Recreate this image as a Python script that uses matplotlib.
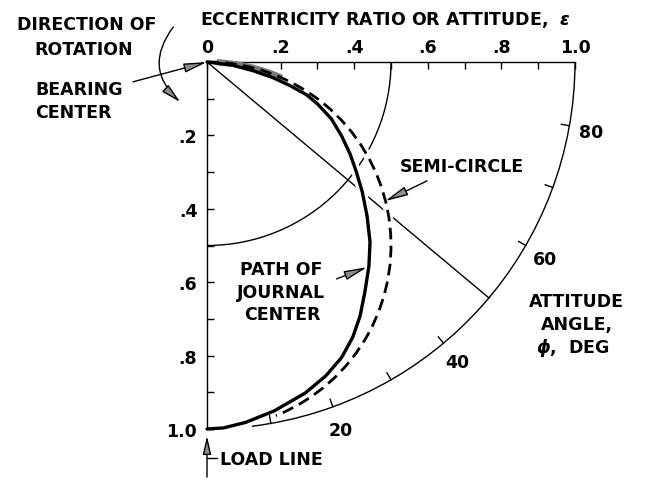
import numpy as np
import matplotlib
matplotlib.use("Agg")
import matplotlib.pyplot as plt
from matplotlib.patches import Arc, FancyArrowPatch
from matplotlib.ticker import FixedLocator, FixedFormatter

plt.rcParams['font.family'] = ['DejaVu Sans']
plt.rcParams['font.weight'] = 'bold'
plt.rcParams['mathtext.fontset'] = 'dejavusans'

# ---------------- data ----------------
ecc_ticks = [0, 0.2, 0.4, 0.6, 0.8, 1.0]
ecc_labels = ['0', '.2', '.4', '.6', '.8', '1.0']
ecc_minor = [0.1, 0.3, 0.5, 0.7, 0.9]
load_ticks = [0, 0.2, 0.4, 0.6, 0.8, 1.0]
load_labels = ['', '.2', '.4', '.6', '.8', '1.0']
load_minor = [0.1, 0.3, 0.5, 0.7, 0.9]
angle_ticks = [10, 20, 30, 40, 60, 70, 80]
angle_labels = [20, 40, 60, 80]
ray_angle = 50
outer_radius = 1.0
outer_start_angle = 7
inner_radius = 0.5
semi_center = (0.0, 0.5)
semi_radius = 0.5

# path of journal center (x = horizontal eccentricity, y = along load line)
path_x = [0.0, 0.070, 0.126, 0.180, 0.225, 0.270, 0.300, 0.338, 0.366, 0.389,
          0.405, 0.422, 0.435, 0.443, 0.440, 0.429, 0.416, 0.396, 0.366, 0.323,
          0.267, 0.182, 0.105, 0.045, 0.0]
path_y = [0.0, 0.009, 0.024, 0.043, 0.064, 0.089, 0.114, 0.155, 0.202, 0.251,
          0.297, 0.354, 0.420, 0.490, 0.556, 0.627, 0.692, 0.750, 0.805, 0.855,
          0.902, 0.951, 0.982, 0.997, 1.0]

TXT = 12.5
LW = 1.0

fig = plt.figure(figsize=(6.45, 4.81), dpi=100)
ax = fig.add_axes([0, 0, 1, 1])
ax.set_xlim(-207 / 368, 438 / 368)
ax.set_ylim(418 / 367, -63 / 367)
ax.patch.set_visible(False)

for s in ['right', 'bottom']:
    ax.spines[s].set_visible(False)
ax.spines['left'].set_position(('data', 0))
ax.spines['top'].set_position(('data', 0))
ax.spines['left'].set_bounds(0, 1)
ax.spines['top'].set_bounds(0, 1)
for s in ['left', 'top']:
    ax.spines[s].set_linewidth(LW)

ax.xaxis.set_ticks_position('top')
ax.xaxis.set_major_locator(FixedLocator(ecc_ticks))
ax.xaxis.set_major_formatter(FixedFormatter(ecc_labels))
ax.xaxis.set_minor_locator(FixedLocator(ecc_minor))
ax.yaxis.set_ticks_position('left')
ax.yaxis.set_major_locator(FixedLocator(load_ticks))
ax.yaxis.set_major_formatter(FixedFormatter(load_labels))
ax.yaxis.set_minor_locator(FixedLocator(load_minor))
ax.tick_params(axis='x', which='both', direction='in', length=5, width=LW,
               pad=4, labelsize=TXT)
ax.tick_params(axis='y', which='both', direction='in', length=5, width=LW,
               pad=7, labelsize=TXT)

# arcs
ax.add_patch(Arc((0, 0), 2 * outer_radius, 2 * outer_radius, theta1=0,
                 theta2=90 - outer_start_angle, lw=LW, color='black', zorder=2))
ax.add_patch(Arc((0, 0), 2 * inner_radius, 2 * inner_radius, theta1=0,
                 theta2=90, lw=LW, color='black', zorder=2))
ph = np.deg2rad(ray_angle)
ax.plot([0, outer_radius * np.sin(ph)], [0, outer_radius * np.cos(ph)],
        color='black', lw=LW, zorder=2)
for a in angle_ticks:
    p = np.deg2rad(a)
    ax.plot([0.978 * np.sin(p), np.sin(p)], [0.978 * np.cos(p), np.cos(p)],
            color='black', lw=LW, zorder=2)
for a in angle_labels:
    p = np.deg2rad(a)
    ax.text(1.06 * np.sin(p), 1.06 * np.cos(p), str(a), fontsize=TXT,
            ha='center', va='center_baseline')

# white halos where curves cross the construction lines
px = np.array(path_x)
py = np.array(path_y)
m = (py > 0.15) & (py < 0.62)
ax.plot(px[m], py[m], color='white', lw=7, zorder=3, solid_capstyle='butt')
ax.add_patch(Arc(semi_center, 2 * semi_radius, 2 * semi_radius, theta1=-50,
                 theta2=15, lw=6, color='white', zorder=3))

# grey shaded band near origin
ax.add_patch(Arc(semi_center, 2 * semi_radius, 2 * semi_radius, theta1=-87,
                 theta2=-66, lw=4.5, color='#7a7a7a', zorder=3.5))

# semicircle (dashed)
ax.add_patch(Arc(semi_center, 2 * semi_radius, 2 * semi_radius, theta1=-90,
                 theta2=68, lw=2.0, color='black', zorder=4,
                 linestyle=(0, (4.2, 2.3))))
# path of journal center
ax.plot(path_x, path_y, color='black', lw=2.4, zorder=4,
        solid_capstyle='round', solid_joinstyle='round')


def arrow(start, end, rad=0.0, hl=1.4, hw=0.28):
    a = FancyArrowPatch(start, end,
                        arrowstyle=f'-|>,head_length={hl},head_width={hw}',
                        connectionstyle=f'arc3,rad={rad}', mutation_scale=10,
                        lw=1.0, edgecolor='black', facecolor='#8c8c8c',
                        shrinkA=0, shrinkB=0, zorder=5)
    ax.add_patch(a)


arrow((-0.201, 0.054), (0.0, 0.0))                       # bearing center
arrow((-0.092, -0.095), (-0.073, 0.109), rad=0.45, hl=1.2)  # rotation
arrow((0.598, 0.324), (0.484, 0.379))                     # semi-circle
arrow((0.352, 0.591), (0.435, 0.559))                     # path
arrow((0.0, 1.131), (0.0, 1.019), hl=1.1, hw=0.25)        # load line
ax.plot([0.0, 0.027], [1.079, 1.079], color='black', lw=LW)

kw = dict(fontsize=TXT, va='baseline')
ax.text(-0.019, -0.1035, r'ECCENTRICITY RATIO OR ATTITUDE,  $\epsilon$', ha='left', **kw)
ax.text(-0.326, -0.0899, 'DIRECTION OF', ha='center', **kw)
ax.text(-0.334, -0.0218, 'ROTATION', ha='center', **kw)
ax.text(-0.467, 0.0872, 'BEARING', ha='left', **kw)
ax.text(-0.467, 0.150, 'CENTER', ha='left', **kw)
ax.text(0.693, 0.297, 'SEMI-CIRCLE', ha='center', **kw)
ax.text(0.201, 0.578, 'PATH OF', ha='center', **kw)
ax.text(0.201, 0.640, 'JOURNAL', ha='center', **kw)
ax.text(0.204, 0.700, 'CENTER', ha='center', **kw)
ax.text(1.005, 0.665, 'ATTITUDE', ha='center', **kw)
ax.text(1.005, 0.728, 'ANGLE,', ha='center', **kw)
ax.text(0.994, 0.790, r'$\phi$,  DEG', ha='center', **kw)
ax.text(0.035, 1.095, 'LOAD LINE', ha='left', **kw)

fig.savefig('out.png', dpi=100)
